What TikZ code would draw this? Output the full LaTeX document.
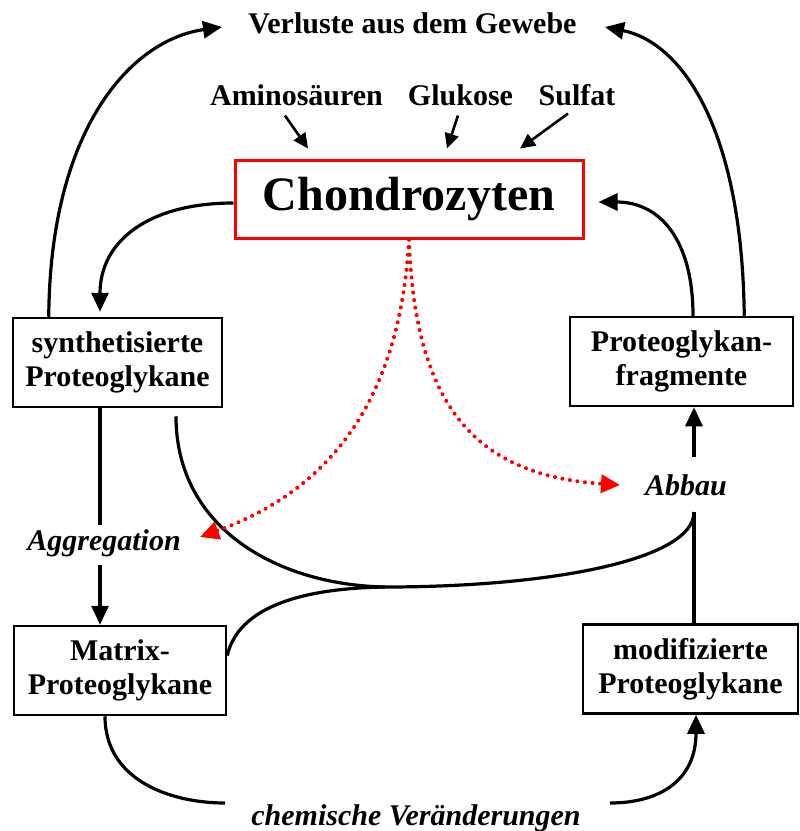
\documentclass[tikz,border=0pt]{standalone}
\usepackage{fontspec}
\setmainfont{Liberation Serif}
\usetikzlibrary{arrows.meta}
\begin{document}
\begin{tikzpicture}[x=1pt,y=-1pt,
  box/.style={draw,line width=2.5pt,align=center,font=\fontsize{30}{34}\selectfont\bfseries,inner sep=0pt,minimum height=89pt},
  lbl/.style={font=\fontsize{30}{34}\selectfont\bfseries,inner sep=0pt,anchor=base},
  ilbl/.style={font=\fontsize{30}{34}\selectfont\bfseries\itshape,inner sep=0pt,anchor=base},
  arr/.style={line width=3.2pt,-{Triangle[length=19pt,width=17pt]}},
  ln/.style={line width=3.2pt},
  sarr/.style={line width=2.6pt,-{Triangle[length=15pt,width=14pt]}},
  rarr/.style={red,line width=4pt,line cap=round,dash pattern=on 0.1pt off 7.5pt,-{Triangle[length=19pt,width=18pt,line cap=butt]}}]
\useasboundingbox (0,0) rectangle (800,831);
\fill[white] (0,0) rectangle (800,831);

% nodes
\node[draw=red,line width=3pt,minimum width=348pt,minimum height=78pt,inner sep=0pt,
      font=\fontsize{48}{50}\selectfont\bfseries] (chon) at (409,199) {\raisebox{-3pt}{Chondrozyten}};
\node[box,minimum width=209pt] (synth) at (117.5,362.5) {synthetisierte\\Proteoglykane};
\node[box,minimum width=223pt] (frag) at (681.5,361.5) {Proteoglykan-\\fragmente};
\node[box,minimum width=212pt] (matrix) at (120,670.5) {Matrix-\\Proteoglykane};
\node[box,minimum width=215pt] (mod) at (690.5,669) {modifizierte\\Proteoglykane};

\node[lbl] (verl) at (412.5,33) {Verluste aus dem Gewebe};
\node[lbl] (amino) at (296.5,105) {Aminosäuren};
\node[lbl] (gluk) at (460.5,105) {Glukose};
\node[lbl] (sulf) at (577,105) {Sulfat};
\node[ilbl] (aggr) at (104,550) {Aggregation};
\node[ilbl] (abbau) at (686,495) {Abbau};
\node[ilbl] (chem) at (416,825) {chemische Veränderungen};

% coordinates
\coordinate (verlL) at (222,27);
\coordinate (verlR) at (605,27);
\coordinate (aggrTop) at (100,525);
\coordinate (aggrBot) at (100,565);
\coordinate (abT) at (694,457);
\coordinate (abB) at (694,512);
\coordinate (merge) at (385,587);
\coordinate (chemL) at (225,803);
\coordinate (chemR) at (610,803);
\coordinate (redL) at (200,537);
\coordinate (redR) at (620,485);

% input arrows
\draw[sarr] ([xshift=-11.5pt,yshift=-10pt]amino.south) -- ([xshift=-101pt,yshift=10pt]chon.north);
\draw[sarr] ([xshift=-2.5pt,yshift=-10pt]gluk.south) -- ([xshift=38pt,yshift=10pt]chon.north);
\draw[sarr] ([xshift=-9pt,yshift=-8pt]sulf.south) -- ([xshift=111pt,yshift=10pt]chon.north);

% losses
\draw[arr] ([xshift=37pt]synth.north west) .. controls (50,130) and (130,40) .. (verlL);
\draw[arr] ([xshift=-50pt]frag.north east) .. controls (742,125) and (680,42) .. (verlR);

% chondrocytes cycle
\draw[arr] ([yshift=-4pt]chon.west) .. controls (150,203) and (100,240) .. ([xshift=-17.5pt,yshift=5pt]synth.north);
\draw[arr] ([xshift=11.5pt]frag.north) .. controls (693,240) and (660,202) .. ([xshift=14pt,yshift=-3pt]chon.east);

% aggregation
\draw[ln] (synth.south -| aggrTop) -- (aggrTop);
\draw[arr] (aggrBot) -- (matrix.north -| aggrBot);

% Abbau
\draw[arr] (abT) -- (frag.south -| abT);
\draw[ln] (mod.north -| abB) -- (abB);
\draw[ln] ([xshift=58.5pt,yshift=-8pt]synth.south) .. controls (176,530) and (280,585) .. (merge);
\draw[ln] ([yshift=15pt]matrix.east) .. controls (240,600) and (320,588) .. (merge);
\draw[ln] (merge) .. controls (550,587) and (694,560) .. (abB);

% chemical changes
\draw[ln] ([xshift=-15pt]matrix.south) .. controls (105,780) and (170,803) .. (chemL);
\draw[arr] (chemR) .. controls (660,803) and (696,780) .. ([xshift=5.5pt]mod.south);

% red dotted
\draw[rarr] (chon.south) .. controls (400,400) and (330,490) .. (redL);
\draw[rarr] (chon.south) .. controls (415,400) and (470,475) .. (redR);
\end{tikzpicture}
\end{document}
